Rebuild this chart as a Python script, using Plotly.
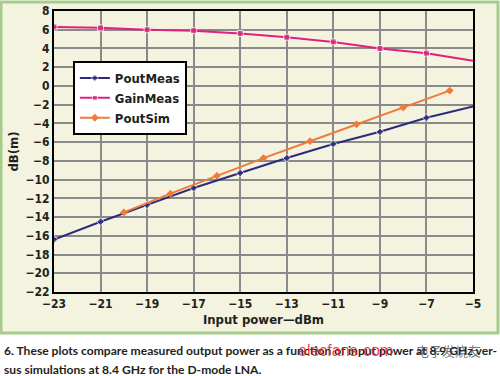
import plotly.graph_objects as go

# Data
pout_meas_x = [-23, -21, -19, -17, -15, -13, -11, -9, -7, -5]
pout_meas_y = [-16.4, -14.5, -12.7, -10.9, -9.3, -7.7, -6.2, -4.9, -3.4, -2.2]

gain_meas_x = [-23, -21, -19, -17, -15, -13, -11, -9, -7, -6, -5]
gain_meas_y = [6.3, 6.2, 6.0, 5.9, 5.6, 5.2, 4.7, 4.0, 3.5, 3.1, 2.7]

pout_sim_x = [-20, -18, -16, -14, -12, -10, -8, -6]
pout_sim_y = [-13.5, -11.5, -9.6, -7.7, -5.9, -4.1, -2.3, -0.5]

x_ticks = [-23, -21, -19, -17, -15, -13, -11, -9, -7, -5]

series_names = ["PoutMeas", "GainMeas", "PoutSim"]
colors = ["#2b2a7f", "#e0207f", "#f07a3a"]

def sizes(xs, size, skip):
    return [0 if x in skip else size for x in xs]

fig = go.Figure()
fig.add_trace(go.Scatter(
    x=pout_meas_x, y=pout_meas_y, name=series_names[0], mode="lines+markers",
    line=dict(color=colors[0], width=2),
    marker=dict(symbol="diamond", size=sizes(pout_meas_x, 6, [-5]), color=colors[0]),
))
fig.add_trace(go.Scatter(
    x=gain_meas_x, y=gain_meas_y, name=series_names[1], mode="lines+markers",
    line=dict(color=colors[1], width=2),
    marker=dict(symbol="square", size=sizes(gain_meas_x, 6, [-6, -5]), color=colors[1]),
))
fig.add_trace(go.Scatter(
    x=pout_sim_x, y=pout_sim_y, name=series_names[2], mode="lines+markers",
    line=dict(color=colors[2], width=2),
    marker=dict(symbol="diamond", size=6, color=colors[2]),
))

COND = "DejaVu Sans Condensed, Liberation Sans Narrow, Roboto, sans-serif"
tick_font = dict(family=COND, size=12, color="#231f20", weight="bold")
label_font = dict(family=COND, size=13, color="#231f20", weight="bold")

fig.update_layout(
    width=500, height=376,
    margin=dict(l=54, r=27, t=11, b=84),
    paper_bgcolor="white",
    plot_bgcolor="white",
    showlegend=True,
    legend=dict(
        x=0.045, y=0.822, xanchor="left", yanchor="top",
        bgcolor="white", bordercolor="black", borderwidth=2,
        font=label_font,
        itemwidth=30, tracegroupgap=5,
    ),
    xaxis=dict(
        range=[-23, -5], tickmode="array", tickvals=x_ticks,
        showgrid=True, gridcolor="#8a8a8a", gridwidth=2,
        showline=True, linecolor="black", linewidth=2, mirror=True,
        ticks="", zeroline=False, automargin=False,
        tickfont=tick_font,
        title=dict(text="Input power\u2014dBm", font=label_font, standoff=4),
    ),
    yaxis=dict(
        range=[-22, 8], dtick=2, tick0=0,
        showgrid=True, gridcolor="#8a8a8a", gridwidth=2,
        showline=True, linecolor="black", linewidth=2, mirror=True,
        ticks="", zeroline=False, automargin=False,
        tickfont=tick_font,
        title=dict(text="dB(m)", font=label_font, standoff=4),
    ),
    shapes=[dict(
        type="rect", xref="paper", yref="paper", layer="below",
        x0=-53/419, x1=(498-54)/419, y0=-(333-292)/281, y1=(292-2)/281,
        fillcolor="#f3f3df", line=dict(color="#a6cc8c", width=3),
    )],
    annotations=[
        dict(xref="paper", yref="paper", x=-52/419, y=-(350-292)/281,
             xanchor="left", yanchor="middle", showarrow=False,
             text="<b>6. These plots compare measured output power as a function of input power at 8.9 GHz ver-</b>",
             font=dict(family="Lato", size=12.1, color="#231f20")),
        dict(xref="paper", yref="paper", x=-52/419, y=-(369-292)/281,
             xanchor="left", yanchor="middle", showarrow=False,
             text="<b>sus simulations at 8.4 GHz for the D-mode LNA.</b>",
             font=dict(family="Lato", size=12.1, color="#231f20")),
        dict(xref="paper", yref="paper", x=(345-54)/419, y=-(350-292)/281,
             xanchor="center", yanchor="middle", showarrow=False,
             text="elecfans\u00b7com",
             font=dict(family="Liberation Sans", size=16, color="rgba(230,30,40,0.85)")),
        dict(xref="paper", yref="paper", x=(448-54)/419, y=-(350-292)/281,
             xanchor="center", yanchor="middle", showarrow=False,
             text="电子发烧友",
             font=dict(family="Noto Sans CJK SC", size=13, color="rgba(60,60,60,0.7)")),
    ],
)

fig.write_html("out.html", config={"displayModeBar": False},
               post_script="document.body.style.margin='0';")
